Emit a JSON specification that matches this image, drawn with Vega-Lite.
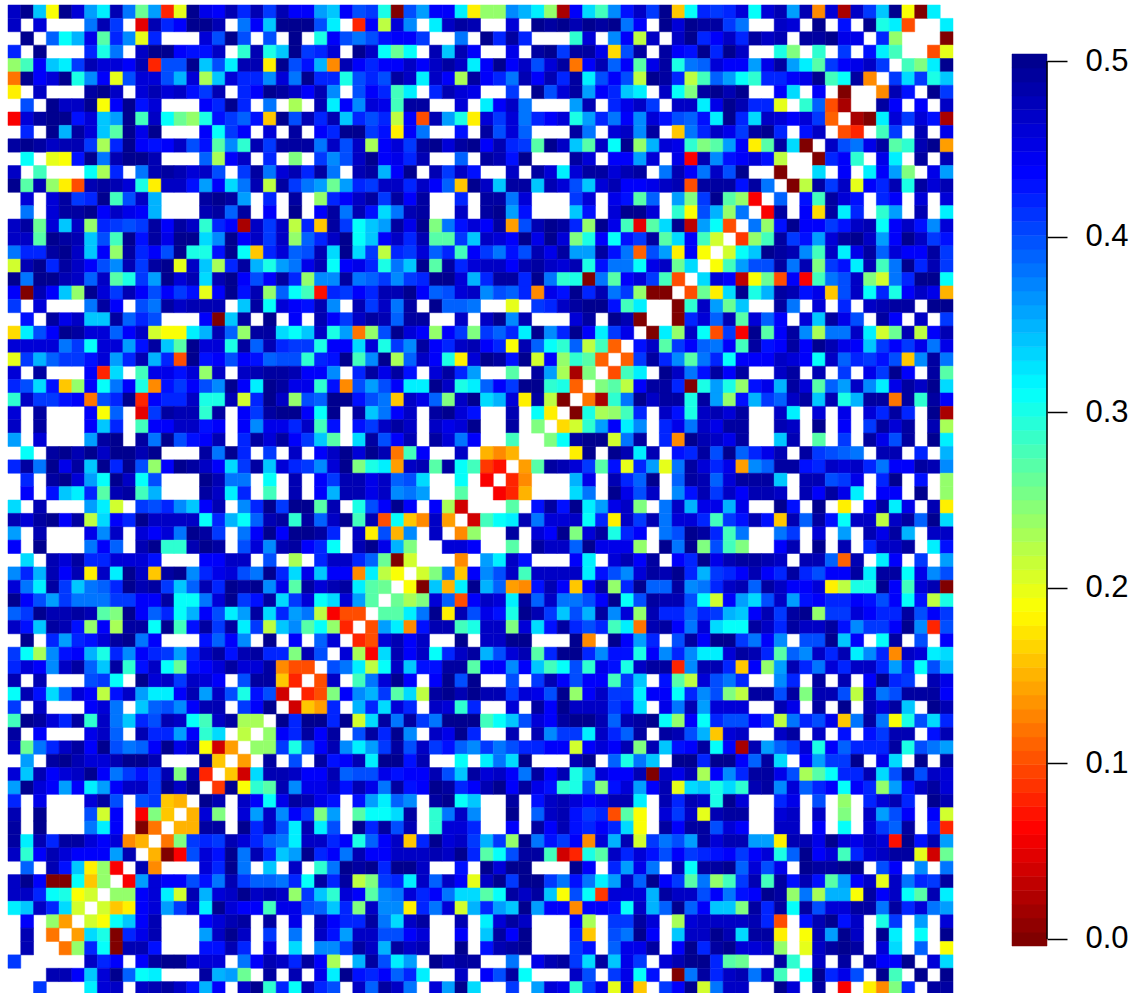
{"$schema":"https://vega.github.io/schema/vega-lite/v6.json","padding":{"left":7,"top":4,"right":0,"bottom":0},"autosize":{"type":"pad"},"background":"white","config":{"view":{"stroke":null}},"spacing":57,"hconcat":[{"width":945,"height":990,"data":{"values":[
{"r":1,"v":[47,50,34,19,50,46,36,32,48,38,26,36,8,20,50,45,44,48,42,48,41,48,44,44,36,34,44,40,41,30,0,40,36,44,44,32,18,24,24,37,35,32,24,2,44,33,28,37,43,47,41,50,16,31,42,41,42,46,31,46,48,36,48,13,46,2,47,41,34,50,19,0,32,null]},
{"r":2,"v":[47,null,46,null,null,null,38,48,41,null,5,48,42,44,50,50,48,null,38,44,34,50,50,50,40,32,null,8,44,22,46,37,null,32,47,49,48,null,null,46,null,50,49,50,48,50,49,50,38,44,null,50,46,50,49,49,41,38,null,null,47,46,null,50,null,43,null,50,30,32,10,null,null,32]},
{"r":3,"v":[null,50,null,39,31,35,45,27,42,37,20,42,null,null,null,46,40,50,40,null,40,null,50,null,30,44,40,38,40,43,44,44,41,null,null,38,null,50,42,49,42,null,null,null,29,46,null,37,44,22,47,null,47,50,42,44,47,42,49,47,48,null,49,49,50,45,45,null,42,24,null,null,null,0]},
{"r":4,"v":[42,null,50,null,null,null,42,30,38,null,47,50,50,44,43,43,47,null,29,48,30,34,50,41,42,46,null,50,47,31,26,31,null,48,34,48,44,null,null,45,null,49,50,41,49,49,45,17,40,49,null,49,44,43,50,42,50,47,null,null,30,25,null,29,null,41,null,43,32,28,null,null,10,20]},
{"r":5,"v":[24,28,44,34,32,41,48,46,46,44,48,8,40,40,50,34,40,32,48,48,18,50,40,43,35,13,48,44,42,44,44,47,44,47,49,47,32,44,50,44,47,40,46,49,12,44,48,39,44,27,45,49,30,38,39,46,44,44,36,45,49,36,32,27,41,44,45,47,41,null,28,25,32,50]},
{"r":6,"v":[12,50,44,46,50,30,37,44,20,40,46,46,40,35,46,23,34,46,42,42,37,46,38,50,42,42,30,40,42,40,49,47,32,47,44,23,49,44,42,38,48,44,48,42,49,32,40,44,40,22,50,49,42,22,28,39,36,31,29,42,42,44,45,50,28,31,49,13,null,41,33,41,30,34]},
{"r":7,"v":[18,null,47,null,null,null,49,50,47,null,46,48,46,47,43,41,48,null,42,44,50,49,47,44,48,37,null,40,44,42,28,32,null,42,48,46,45,null,null,41,null,50,40,46,49,36,44,42,34,32,null,47,31,25,49,50,48,50,null,null,44,33,null,44,null,0,null,null,13,48,43,null,50,41]},
{"r":8,"v":[null,40,null,50,47,47,50,19,44,50,43,46,null,null,null,44,42,50,42,null,38,null,23,null,48,32,44,37,46,45,28,49,49,null,null,46,null,32,44,47,38,null,null,null,36,48,null,42,45,47,41,null,47,47,32,45,50,48,42,42,20,null,29,39,10,2,null,null,49,44,null,44,null,47]},
{"r":9,"v":[6,46,49,50,50,43,46,34,36,50,28,47,31,26,24,30,43,41,39,43,16,50,40,48,42,48,34,42,40,42,22,44,10,48,36,30,18,46,41,46,38,42,44,46,30,36,42,38,44,37,46,43,40,39,43,32,50,42,33,47,46,44,46,41,11,null,2,0,32,46,41,46,43,2]},
{"r":10,"v":[null,42,null,50,35,49,46,34,27,50,45,50,null,null,null,44,31,41,44,null,46,null,49,null,44,42,50,50,41,43,18,44,38,null,null,43,null,49,40,46,39,null,null,null,49,38,null,46,47,37,49,null,16,38,42,47,45,41,49,50,42,null,43,47,null,10,8,null,28,41,null,48,null,45]},
{"r":11,"v":[49,50,49,47,48,48,41,23,42,50,44,43,44,47,40,43,27,37,29,48,41,49,49,49,38,47,40,47,23,44,46,41,49,50,46,49,50,44,48,42,41,27,50,47,34,27,47,31,50,24,35,46,45,29,25,27,36,44,18,27,49,33,0,null,47,40,38,45,49,27,29,48,50,14]},
{"r":12,"v":[null,31,null,20,19,43,50,38,48,50,50,48,null,null,null,39,23,44,47,null,42,null,25,null,41,37,40,47,50,44,45,42,48,null,null,39,null,49,48,43,50,null,null,null,49,46,null,44,44,36,46,null,45,6,48,37,43,44,46,43,22,null,null,0,42,44,29,null,45,32,null,49,null,48]},
{"r":13,"v":[47,null,28,null,null,null,31,23,42,null,38,48,49,48,46,47,40,null,41,49,38,46,48,42,49,38,null,48,49,35,44,50,null,48,41,47,43,null,null,47,null,49,46,32,46,49,49,46,48,49,null,38,48,44,38,47,40,50,null,null,0,null,null,33,null,44,null,32,44,36,25,null,45,36]},
{"r":14,"v":[50,27,48,24,18,10,48,49,48,46,30,18,47,47,43,36,44,33,38,48,22,49,41,38,36,26,36,42,41,47,47,42,47,44,39,16,50,47,34,49,49,34,48,46,40,34,46,48,44,44,45,47,48,10,49,49,49,43,49,38,null,0,22,49,41,47,20,44,42,48,30,49,46,48]},
{"r":15,"v":[null,46,null,46,49,41,42,50,28,40,47,35,null,null,null,49,50,49,36,null,42,null,49,null,24,42,44,47,49,41,49,44,49,null,null,42,null,49,49,38,46,null,null,null,41,46,null,45,43,27,39,null,36,25,41,50,27,24,6,null,39,null,43,28,49,46,43,null,42,44,null,46,null,46]},
{"r":16,"v":[null,38,null,46,49,49,50,44,47,45,44,35,null,null,null,48,49,39,49,null,44,null,50,null,44,49,38,48,43,33,38,48,49,null,null,47,null,49,50,36,43,null,null,null,34,43,null,46,50,50,46,null,29,19,40,35,24,38,null,6,49,null,44,17,49,32,42,null,29,36,null,48,null,32]},
{"r":17,"v":[47,49,26,46,34,47,24,42,41,40,41,49,44,49,47,29,42,44,2,47,41,47,22,42,16,49,41,31,34,36,49,45,50,25,38,43,46,44,49,14,40,48,50,49,42,24,50,45,28,5,27,33,50,3,36,31,10,null,38,24,43,50,44,44,41,43,47,48,31,44,47,43,37,46]},
{"r":18,"v":[47,47,27,50,49,48,34,40,28,50,43,49,45,50,50,33,37,50,44,47,41,47,24,39,42,47,50,31,34,44,47,42,48,27,27,41,34,47,46,44,50,45,50,46,25,30,44,31,43,41,49,27,33,44,28,21,null,9,24,28,49,41,43,36,46,49,50,47,36,44,50,47,41,43]},
{"r":19,"v":[38,42,42,49,50,47,34,44,24,49,42,44,40,50,30,30,43,50,31,16,42,46,39,40,48,33,50,33,41,22,42,41,46,39,42,28,44,41,38,43,40,48,45,49,36,36,49,43,38,11,40,36,18,44,19,null,21,31,34,50,49,48,37,28,47,32,45,49,39,46,44,44,49,41]},
{"r":20,"v":[21,48,50,42,49,47,44,40,37,48,41,49,50,20,47,34,23,42,49,35,30,36,38,45,48,31,44,45,42,30,38,34,50,27,49,42,46,47,47,44,48,49,47,46,48,30,43,38,38,31,45,47,26,33,null,19,28,36,40,40,49,38,48,25,41,43,32,48,28,38,50,42,48,41]},
{"r":21,"v":[50,38,50,50,48,47,39,47,27,30,41,36,50,46,48,33,48,50,44,40,44,49,42,24,37,37,49,38,39,41,37,41,42,50,50,46,35,42,49,49,42,50,38,29,30,0,38,27,44,46,41,28,10,null,33,46,44,3,19,26,10,44,6,28,38,40,47,25,21,38,42,50,50,31]},
{"r":22,"v":[44,0,48,44,34,24,50,46,41,48,44,40,44,41,43,20,44,50,43,48,24,39,31,28,7,42,41,44,42,48,48,50,44,39,40,46,47,37,40,39,42,13,45,43,50,42,48,38,41,24,0,0,null,10,26,18,33,50,30,35,49,48,43,45,16,40,47,31,42,30,44,47,45,15]},
{"r":23,"v":[41,null,46,null,null,null,38,49,44,null,40,38,49,47,48,48,48,null,34,49,31,46,44,43,48,37,null,48,41,47,38,49,null,50,39,39,38,null,null,20,null,41,42,47,49,50,50,43,28,32,null,null,0,29,47,36,26,34,null,null,49,38,null,46,null,42,null,47,48,49,49,null,50,50]},
{"r":24,"v":[null,43,null,49,45,47,34,34,49,39,42,40,null,null,null,44,0,34,49,null,50,null,44,null,48,44,41,47,49,48,39,49,49,null,null,47,null,47,50,37,48,null,null,null,46,49,null,50,48,0,null,null,0,42,46,39,48,27,46,39,44,null,46,34,49,45,40,null,49,44,null,47,null,41]},
{"r":25,"v":[17,32,40,44,50,49,46,46,39,44,47,21,19,19,32,35,48,39,24,49,49,33,31,34,47,30,36,12,24,40,50,46,44,24,44,41,25,41,39,42,32,50,37,42,50,44,32,41,45,null,0,32,24,47,31,10,41,6,50,27,44,49,37,23,38,38,47,32,21,26,48,22,44,48]},
{"r":26,"v":[46,46,46,46,38,41,31,46,46,36,43,49,34,27,50,46,46,30,49,39,48,42,41,41,30,44,44,33,46,30,41,37,49,44,42,47,48,44,42,19,48,39,31,29,39,22,28,11,null,43,47,27,41,44,39,38,44,28,49,43,44,49,44,50,48,45,44,34,41,44,41,45,38,45]},
{"r":27,"v":[20,41,35,39,41,41,43,46,36,42,48,35,42,10,50,43,44,40,44,43,39,40,40,29,42,43,50,28,37,50,23,39,47,44,30,18,46,50,49,43,50,21,44,24,29,27,11,null,11,41,49,42,37,27,38,42,31,44,44,44,47,46,44,31,47,39,42,41,43,40,16,37,49,38]},
{"r":28,"v":[46,null,49,null,null,null,44,8,33,null,28,45,45,43,46,24,47,null,47,48,49,49,48,44,44,37,null,42,49,45,49,43,null,46,49,42,36,null,null,27,null,49,36,23,2,25,null,10,28,32,null,50,47,38,43,49,44,49,null,null,47,49,null,48,null,41,null,45,41,50,44,null,49,27]},
{"r":29,"v":[42,40,33,43,16,24,44,31,38,44,30,13,43,41,44,40,37,50,44,32,50,49,45,45,29,43,13,40,36,40,44,32,32,50,47,30,32,39,44,41,50,50,29,30,11,null,25,27,22,44,49,49,42,0,30,36,30,24,43,45,35,49,46,27,39,36,47,37,32,45,49,47,50,33]},
{"r":30,"v":[29,47,41,41,43,44,12,40,42,50,8,44,42,42,47,30,30,48,21,42,50,47,24,40,39,50,50,43,40,38,16,47,45,39,25,47,50,33,35,46,18,49,22,0,null,12,2,29,38,50,47,49,49,30,49,36,24,43,35,41,39,47,49,34,48,30,35,49,49,12,49,29,49,44]},
{"r":31,"v":[46,null,49,null,null,null,44,19,39,null,5,41,49,48,48,29,49,null,44,41,49,50,50,44,31,50,null,49,34,38,44,47,null,49,50,46,43,null,null,48,null,31,18,null,0,30,23,24,28,42,null,47,43,30,47,48,46,49,null,null,47,32,null,46,null,45,null,46,42,49,42,null,50,2]},
{"r":32,"v":[47,null,49,null,null,null,44,34,42,null,28,44,44,47,47,43,44,null,44,37,45,45,42,47,28,43,null,43,41,47,49,47,null,47,45,46,50,null,null,49,null,25,null,17,21,29,36,44,32,37,null,42,45,38,47,45,49,49,null,null,48,47,null,50,null,44,null,41,49,46,49,null,48,23]},
{"r":33,"v":[36,null,46,null,null,null,36,49,50,null,49,38,50,40,43,44,48,null,42,49,46,49,44,41,34,27,null,33,49,40,44,48,null,49,46,38,44,null,null,28,null,null,25,31,49,50,50,21,38,49,null,42,13,50,48,47,45,49,null,null,34,48,null,27,null,41,null,49,45,40,49,null,50,32]},
{"r":34,"v":[null,31,null,49,50,48,50,47,50,50,48,50,null,null,null,49,38,50,42,null,41,null,47,null,44,47,50,46,50,48,12,28,44,null,null,47,null,15,13,15,null,null,null,null,18,50,null,50,48,32,48,null,43,42,49,40,50,39,42,45,48,null,49,41,40,39,38,null,48,48,null,42,null,35]},
{"r":35,"v":[42,49,38,50,45,49,34,50,42,50,40,24,44,50,49,47,44,33,41,49,34,46,42,41,37,46,50,25,30,32,14,47,48,27,49,31,28,9,7,null,14,27,49,48,46,41,27,43,20,42,36,20,38,49,46,42,45,14,37,39,49,49,43,42,47,46,47,42,38,44,44,49,48,37]},
{"r":36,"v":[null,42,null,49,50,46,36,31,50,47,31,40,null,null,null,50,48,38,38,null,31,null,48,null,44,41,48,48,45,47,39,40,33,null,null,31,null,6,null,8,13,null,null,null,35,45,null,48,42,39,50,null,39,49,48,39,46,49,49,49,34,null,48,48,40,41,45,null,42,50,null,43,null,24]},
{"r":37,"v":[null,44,null,43,34,32,42,27,48,49,28,35,null,null,null,49,47,32,42,null,28,null,48,null,44,35,48,48,45,47,37,38,36,null,null,27,null,null,6,8,15,null,null,null,33,38,null,50,45,40,47,null,37,43,48,41,47,44,48,48,47,null,48,44,49,45,32,null,44,44,null,50,null,24]},
{"r":38,"v":[33,null,48,null,null,null,36,32,21,null,41,40,42,37,34,44,48,null,37,42,50,41,50,50,27,48,null,30,40,44,50,44,null,44,23,4,null,null,null,27,null,43,49,43,50,32,36,45,47,25,null,38,47,35,45,45,35,45,null,null,50,43,null,50,null,18,null,44,49,32,45,null,48,18]},
{"r":39,"v":[48,46,49,50,44,49,22,33,44,42,50,47,47,47,47,31,42,35,31,39,48,49,29,49,39,47,50,28,48,10,31,16,13,47,14,null,4,28,31,32,48,38,46,46,47,31,42,18,47,41,48,38,46,46,42,28,41,43,48,43,16,48,39,49,43,31,47,47,22,47,49,39,50,33]},
{"r":40,"v":[36,null,48,null,null,null,45,37,47,null,46,44,46,38,50,49,41,null,38,44,50,44,50,50,49,42,null,47,18,40,15,37,null,47,null,13,24,null,null,49,null,46,44,50,25,46,49,30,42,44,null,38,40,50,49,42,28,38,null,null,38,41,null,46,null,36,null,48,45,49,35,null,47,47]},
{"r":41,"v":[44,null,50,null,null,null,38,44,39,null,48,50,29,29,48,50,49,null,40,46,37,48,49,44,42,31,null,48,50,45,35,25,null,null,46,46,44,null,null,27,null,49,47,47,39,50,45,45,45,24,null,50,38,50,25,40,28,25,null,null,44,48,null,50,null,48,null,42,47,47,49,null,32,43]},
{"r":42,"v":[null,33,null,48,46,49,42,42,46,46,46,43,null,null,null,44,44,47,47,null,40,null,23,null,42,47,47,42,39,26,0,21,null,null,null,13,null,36,32,47,43,null,null,null,44,32,null,46,48,44,49,null,44,42,50,45,48,49,49,48,47,null,48,48,39,11,48,null,32,44,null,41,null,36]},
{"r":43,"v":[37,42,35,48,44,48,18,47,32,50,47,16,49,50,37,42,45,46,40,38,50,42,33,45,34,44,44,13,32,22,19,null,21,25,38,16,44,37,40,47,28,47,47,47,47,32,43,40,37,46,49,48,50,42,35,41,42,44,48,44,42,49,42,40,44,44,49,32,49,49,31,45,37,40]},
{"r":44,"v":[46,38,32,49,41,34,38,39,42,50,48,49,41,34,39,48,42,50,49,50,37,45,27,49,46,48,49,32,27,26,null,19,0,34,15,32,50,35,39,14,13,43,48,44,16,44,49,24,42,50,39,39,49,37,38,42,47,48,39,49,47,44,44,46,18,22,30,30,50,44,28,46,48,0]},
{"r":45,"v":[50,44,40,36,41,38,38,38,41,41,44,44,49,31,31,38,46,50,41,43,49,33,41,46,31,33,46,36,27,null,26,23,25,46,39,10,44,47,46,32,49,39,47,38,38,40,44,50,31,40,49,48,48,40,31,21,44,36,33,40,47,36,43,44,42,42,44,43,40,44,31,43,22,30]},
{"r":46,"v":[39,41,50,48,48,49,48,27,25,50,44,39,42,31,35,44,40,32,36,49,33,42,36,38,22,6,10,10,null,27,27,32,38,50,18,48,40,45,43,30,50,48,41,34,40,35,49,37,46,24,48,42,42,39,42,41,35,34,44,48,41,49,50,24,41,41,46,44,42,42,49,40,44,41]},
{"r":47,"v":[47,43,34,49,48,43,24,44,23,49,49,31,50,28,43,49,41,49,32,41,22,34,37,27,31,24,8,null,10,36,32,13,43,48,48,28,30,47,47,25,46,33,43,49,42,40,42,28,32,12,48,49,44,38,46,33,31,31,49,47,42,49,47,47,49,43,37,41,41,44,50,37,8,40]},
{"r":48,"v":[null,50,null,42,36,42,43,46,49,50,38,44,null,null,null,43,39,44,37,null,50,null,44,null,39,46,null,8,10,46,48,44,47,null,null,50,null,47,47,50,50,null,null,null,50,13,null,50,44,36,42,null,40,49,44,50,50,41,38,44,37,null,40,40,50,34,44,null,31,49,null,40,null,44]},
{"r":49,"v":[41,31,23,37,43,44,35,30,42,37,44,42,41,36,42,47,49,43,48,49,42,42,25,48,40,null,46,23,6,33,48,44,47,31,42,47,49,35,40,46,48,27,42,50,50,42,37,43,43,30,44,37,42,37,32,32,46,49,48,42,27,39,37,47,42,48,32,37,42,13,47,46,32,33]},
{"r":50,"v":[42,46,44,37,47,49,39,34,49,29,43,47,31,26,43,44,46,49,46,46,49,13,10,10,null,40,38,32,22,31,47,34,43,43,49,49,27,44,44,37,44,34,28,31,40,29,45,43,30,47,49,49,8,37,48,48,42,16,44,24,36,48,42,38,46,42,47,47,42,36,42,31,40,35]},
{"r":51,"v":[48,null,48,null,null,null,40,41,31,null,50,46,47,41,47,46,44,null,40,49,49,16,8,null,10,47,null,28,38,46,50,44,null,44,50,40,50,null,null,40,null,41,48,44,40,44,44,28,41,34,null,43,27,22,46,40,38,42,null,null,37,42,null,49,null,48,null,44,50,42,41,null,48,45]},
{"r":52,"v":[31,48,43,33,39,46,44,22,43,47,36,32,32,44,48,36,47,40,30,43,40,4,null,8,10,25,44,37,35,41,27,33,22,49,50,48,50,48,48,41,46,45,40,50,24,44,47,41,41,32,44,44,31,42,37,40,25,22,49,49,40,49,25,48,48,40,22,47,38,40,49,49,49,44]},
{"r":53,"v":[41,null,47,null,null,null,44,46,38,null,34,39,40,37,44,48,48,null,41,44,50,null,4,16,14,42,null,35,42,33,46,42,null,47,46,29,42,null,null,46,null,49,44,50,47,47,47,41,43,33,null,45,38,48,36,46,46,46,null,null,48,45,null,49,null,50,null,48,46,49,34,null,50,48]},
{"r":54,"v":[28,50,49,46,42,49,29,47,38,34,42,40,48,47,31,28,47,49,23,23,null,50,42,50,50,42,50,21,33,49,38,49,41,38,50,50,50,28,31,34,40,46,44,49,50,50,48,39,48,49,50,31,24,44,31,42,40,40,44,42,22,38,42,40,45,16,38,49,38,19,30,40,33,42]},
{"r":55,"v":[49,null,44,null,null,null,45,47,39,null,48,42,42,36,44,29,33,null,22,null,24,44,42,49,44,49,null,40,49,42,50,37,null,47,45,50,42,null,null,48,null,48,37,41,41,32,47,42,39,49,null,49,48,40,35,16,46,47,null,null,47,49,null,47,null,43,null,43,41,48,48,null,43,48]},
{"r":56,"v":[47,26,38,42,47,49,44,50,40,38,39,44,50,45,47,19,4,14,null,24,24,41,30,40,44,48,37,32,36,41,49,40,47,41,43,39,37,41,38,40,42,42,44,44,21,44,46,44,48,25,48,34,43,44,49,31,44,2,48,36,39,41,46,30,44,39,42,42,42,49,30,40,38,36]},
{"r":57,"v":[null,36,null,49,50,48,46,46,48,50,50,48,null,null,null,50,16,null,14,null,49,null,40,null,49,43,44,48,32,50,50,43,48,null,null,31,null,32,38,33,50,null,null,null,48,50,null,39,30,38,34,null,50,50,42,50,50,44,39,49,33,null,44,36,41,41,50,null,45,33,null,50,null,49]},
{"r":58,"v":[46,34,48,44,46,47,50,44,38,41,43,41,48,25,48,8,null,16,4,33,48,48,47,44,44,48,39,40,40,45,43,44,44,48,40,34,49,46,47,44,38,49,44,48,30,36,46,44,44,48,0,47,45,48,23,44,37,42,49,49,45,40,23,27,31,42,42,48,33,40,49,40,47,46]},
{"r":59,"v":[36,50,46,44,36,44,32,36,44,47,47,41,50,47,50,null,9,50,19,29,27,48,37,45,45,47,43,48,45,38,49,43,44,50,49,42,44,48,50,44,49,45,43,29,30,40,25,43,46,36,44,48,20,33,34,30,33,29,48,49,37,46,39,42,44,31,44,42,24,36,43,47,49,46]},
{"r":60,"v":[42,null,45,null,null,null,46,49,40,null,40,41,16,15,null,50,48,null,47,44,31,45,49,48,45,43,null,43,36,32,39,37,null,49,50,31,34,null,null,49,null,43,47,48,46,44,45,48,48,32,null,48,42,48,47,30,50,46,null,null,42,45,null,40,null,24,null,42,46,48,42,null,50,48]},
{"r":61,"v":[48,null,50,null,null,null,40,21,44,null,6,25,16,null,15,46,25,null,46,36,47,37,44,41,25,36,null,27,31,31,33,49,null,29,38,47,37,null,null,50,null,39,47,48,43,41,42,10,27,19,null,46,41,47,20,48,49,49,null,null,46,47,null,47,null,25,null,47,36,40,44,null,44,21]},
{"r":62,"v":[49,null,50,null,null,null,38,32,44,null,0,12,null,15,15,49,49,null,50,42,47,40,32,48,32,40,null,50,42,49,40,48,null,29,46,46,42,null,null,44,null,49,44,48,43,42,44,42,33,19,null,49,44,49,49,40,46,44,null,null,47,47,null,44,null,31,null,46,41,39,49,null,42,8]},
{"r":63,"v":[49,32,48,42,49,49,46,44,46,13,15,null,12,25,41,42,41,48,46,42,39,38,32,47,47,42,44,30,39,44,47,16,42,50,46,47,41,35,41,24,50,38,43,41,44,13,46,35,48,21,41,38,40,36,49,46,48,48,36,36,18,48,48,45,50,46,45,47,46,7,50,43,48,36]},
{"r":64,"v":[47,29,44,48,46,44,44,44,36,48,null,15,0,6,40,46,43,50,38,48,42,34,36,50,42,44,38,48,44,44,47,47,47,48,47,50,42,27,31,40,49,49,28,4,8,30,27,47,42,46,43,40,44,41,42,43,44,41,44,46,30,39,50,44,46,28,42,46,47,49,49,20,4,26]},
{"r":65,"v":[null,39,null,48,43,34,18,24,6,null,48,13,null,null,null,46,42,50,38,null,34,null,47,null,29,38,50,49,50,42,50,50,47,null,null,43,null,50,46,50,50,null,null,null,50,44,null,42,36,45,38,null,48,31,49,49,50,39,46,40,45,null,50,49,49,50,50,null,40,44,null,37,null,38]},
{"r":66,"v":[47,50,44,0,0,31,16,24,null,6,36,46,44,44,40,43,38,48,41,39,39,38,42,31,49,42,49,22,25,41,42,32,47,39,47,44,20,47,50,41,50,50,41,38,43,38,32,36,47,39,50,44,41,27,38,24,28,41,48,28,49,43,48,43,27,36,44,47,20,47,38,42,41,49]},
{"r":67,"v":[47,47,42,31,30,19,21,null,24,24,44,46,32,21,48,35,46,47,50,47,48,47,24,41,34,29,46,44,27,37,38,46,42,44,38,33,33,27,31,49,47,49,34,19,40,31,9,46,46,46,35,49,47,47,40,44,38,43,44,50,49,24,38,23,35,35,19,49,44,47,31,27,48,32]},
{"r":68,"v":[32,34,47,42,33,21,null,21,16,18,44,46,36,41,46,32,50,46,44,44,28,45,45,40,39,34,42,25,47,37,37,18,42,38,46,21,35,42,36,34,50,36,44,44,13,44,44,43,31,47,35,39,50,39,44,34,34,25,49,42,49,31,49,40,46,46,49,49,38,49,42,46,38,36]},
{"r":69,"v":[null,44,null,24,14,null,21,19,31,34,44,48,null,null,null,44,46,48,49,null,49,null,45,null,48,44,42,42,49,38,33,47,49,null,null,48,null,32,46,49,47,null,null,null,44,23,null,41,41,49,46,null,23,46,47,47,47,47,48,42,10,null,43,48,50,43,47,null,30,41,null,36,null,46]},
{"r":70,"v":[null,48,null,12,null,14,33,30,0,42,45,48,null,null,null,36,47,50,47,null,41,null,38,null,47,43,36,47,47,40,40,44,46,null,null,44,null,34,49,44,50,null,null,null,42,16,null,40,38,50,44,null,34,47,47,50,48,33,49,49,18,null,19,48,36,50,47,null,50,32,null,31,null,50]},
{"r":71,"v":[null,48,null,null,12,24,42,31,0,48,48,43,null,null,null,43,43,48,42,null,45,null,33,null,37,37,41,49,47,35,49,47,48,null,null,50,null,43,48,49,50,null,null,null,41,43,null,39,45,45,49,null,44,50,42,49,50,46,46,47,24,null,20,47,49,50,49,null,46,33,null,39,null,19]},
{"r":72,"v":[41,null,null,null,null,null,47,42,44,null,44,49,50,50,46,46,46,null,38,44,48,47,42,49,44,23,null,35,49,40,32,36,null,50,48,49,49,null,null,38,null,45,48,49,41,33,49,34,45,41,null,46,48,50,50,42,27,26,null,null,49,29,null,47,null,49,null,48,44,44,50,null,46,33]},
{"r":73,"v":[null,null,null,48,48,44,34,46,50,39,31,32,null,null,null,49,35,36,26,null,49,null,48,null,45,32,50,43,42,44,39,42,32,null,null,47,null,44,40,49,31,null,null,null,47,40,null,41,45,31,43,null,0,38,49,42,47,48,38,47,28,null,31,50,42,45,40,null,50,28,null,50,null,50]},
{"r":74,"v":[null,null,41,null,null,null,32,46,47,null,47,48,49,47,43,35,44,null,47,50,29,42,31,48,42,40,null,47,39,49,47,38,null,46,36,50,33,null,null,41,null,36,46,45,29,41,45,20,45,16,null,41,44,50,21,38,47,47,null,null,50,46,null,49,null,6,null,18,13,25,42,null,49,49]}
]},"transform":[{"flatten":["v"]},{"window":[{"op":"row_number","as":"c"}],"groupby":["r"]},{"filter":{"field":"v","valid":true}}],"mark":{"type":"rect","strokeWidth":0.5},"encoding":{"x":{"field":"c","type":"ordinal","axis":null,"scale":{"paddingInner":0,"paddingOuter":0}},"y":{"field":"r","type":"ordinal","axis":null,"scale":{"paddingInner":0,"paddingOuter":0}},"color":{"field":"v","type":"quantitative","legend":null,"scale":{"domain":[0,6.25,18.75,31.25,43.75,50],"range":["#800000","#ff0000","#ffff00","#00ffff","#0000ff","#00008f"],"interpolate":"rgb"}},"stroke":{"field":"v","type":"quantitative","legend":null,"scale":{"domain":[0,6.25,18.75,31.25,43.75,50],"range":["#800000","#ff0000","#ffff00","#00ffff","#0000ff","#00008f"],"interpolate":"rgb"}}}},{"width":35,"height":990,"layer":[{"data":{"values":[{"v":0,"lo":-0.4,"hi":0.4},{"v":0.79,"lo":0.39,"hi":1.19},{"v":1.59,"lo":1.19,"hi":1.99},{"v":2.38,"lo":1.98,"hi":2.78},{"v":3.17,"lo":2.77,"hi":3.57},{"v":3.97,"lo":3.57,"hi":4.37},{"v":4.76,"lo":4.36,"hi":5.16},{"v":5.56,"lo":5.16,"hi":5.96},{"v":6.35,"lo":5.95,"hi":6.75},{"v":7.14,"lo":6.74,"hi":7.54},{"v":7.94,"lo":7.54,"hi":8.34},{"v":8.73,"lo":8.33,"hi":9.13},{"v":9.52,"lo":9.12,"hi":9.92},{"v":10.32,"lo":9.92,"hi":10.72},{"v":11.11,"lo":10.71,"hi":11.51},{"v":11.9,"lo":11.5,"hi":12.3},{"v":12.7,"lo":12.3,"hi":13.1},{"v":13.49,"lo":13.09,"hi":13.89},{"v":14.29,"lo":13.89,"hi":14.69},{"v":15.08,"lo":14.68,"hi":15.48},{"v":15.87,"lo":15.47,"hi":16.27},{"v":16.67,"lo":16.27,"hi":17.07},{"v":17.46,"lo":17.06,"hi":17.86},{"v":18.25,"lo":17.85,"hi":18.65},{"v":19.05,"lo":18.65,"hi":19.45},{"v":19.84,"lo":19.44,"hi":20.24},{"v":20.63,"lo":20.23,"hi":21.03},{"v":21.43,"lo":21.03,"hi":21.83},{"v":22.22,"lo":21.82,"hi":22.62},{"v":23.02,"lo":22.62,"hi":23.42},{"v":23.81,"lo":23.41,"hi":24.21},{"v":24.6,"lo":24.2,"hi":25},{"v":25.4,"lo":25,"hi":25.8},{"v":26.19,"lo":25.79,"hi":26.59},{"v":26.98,"lo":26.58,"hi":27.38},{"v":27.78,"lo":27.38,"hi":28.18},{"v":28.57,"lo":28.17,"hi":28.97},{"v":29.37,"lo":28.97,"hi":29.77},{"v":30.16,"lo":29.76,"hi":30.56},{"v":30.95,"lo":30.55,"hi":31.35},{"v":31.75,"lo":31.35,"hi":32.15},{"v":32.54,"lo":32.14,"hi":32.94},{"v":33.33,"lo":32.93,"hi":33.73},{"v":34.13,"lo":33.73,"hi":34.53},{"v":34.92,"lo":34.52,"hi":35.32},{"v":35.71,"lo":35.31,"hi":36.11},{"v":36.51,"lo":36.11,"hi":36.91},{"v":37.3,"lo":36.9,"hi":37.7},{"v":38.1,"lo":37.7,"hi":38.5},{"v":38.89,"lo":38.49,"hi":39.29},{"v":39.68,"lo":39.28,"hi":40.08},{"v":40.48,"lo":40.08,"hi":40.88},{"v":41.27,"lo":40.87,"hi":41.67},{"v":42.06,"lo":41.66,"hi":42.46},{"v":42.86,"lo":42.46,"hi":43.26},{"v":43.65,"lo":43.25,"hi":44.05},{"v":44.44,"lo":44.04,"hi":44.84},{"v":45.24,"lo":44.84,"hi":45.64},{"v":46.03,"lo":45.63,"hi":46.43},{"v":46.83,"lo":46.43,"hi":47.23},{"v":47.62,"lo":47.22,"hi":48.02},{"v":48.41,"lo":48.01,"hi":48.81},{"v":49.21,"lo":48.81,"hi":49.61},{"v":50,"lo":49.6,"hi":50.4}]},"mark":{"type":"rect","strokeWidth":0.5},"encoding":{"y":{"field":"lo","type":"quantitative","scale":{"domain":[-3.19,53.19],"nice":false,"zero":false},"axis":{"orient":"right","values":[0,10,20,30,40,50],"labelExpr":"format(datum.value/100,'.1f')","domain":false,"grid":false,"title":null,"tickSize":20,"tickWidth":1.5,"tickColor":"black","labelFont":"Liberation Sans","labelFontSize":31,"labelColor":"black","labelPadding":18,"labelBaseline":"middle"}},"y2":{"field":"hi"},"color":{"field":"v","type":"quantitative","legend":null,"scale":{"domain":[0,6.25,18.75,31.25,43.75,50],"range":["#800000","#ff0000","#ffff00","#00ffff","#0000ff","#00008f"],"interpolate":"rgb"}},"stroke":{"field":"v","type":"quantitative","legend":null,"scale":{"domain":[0,6.25,18.75,31.25,43.75,50],"range":["#800000","#ff0000","#ffff00","#00ffff","#0000ff","#00008f"],"interpolate":"rgb"}}}},{"data":{"values":[{"a":0,"b":50,"e":1}]},"mark":{"type":"rule","color":"black","strokeWidth":1.5},"encoding":{"x":{"field":"e","type":"quantitative","axis":null,"scale":{"domain":[0,1]}},"y":{"field":"a","type":"quantitative"},"y2":{"field":"b"}}}]}]}
